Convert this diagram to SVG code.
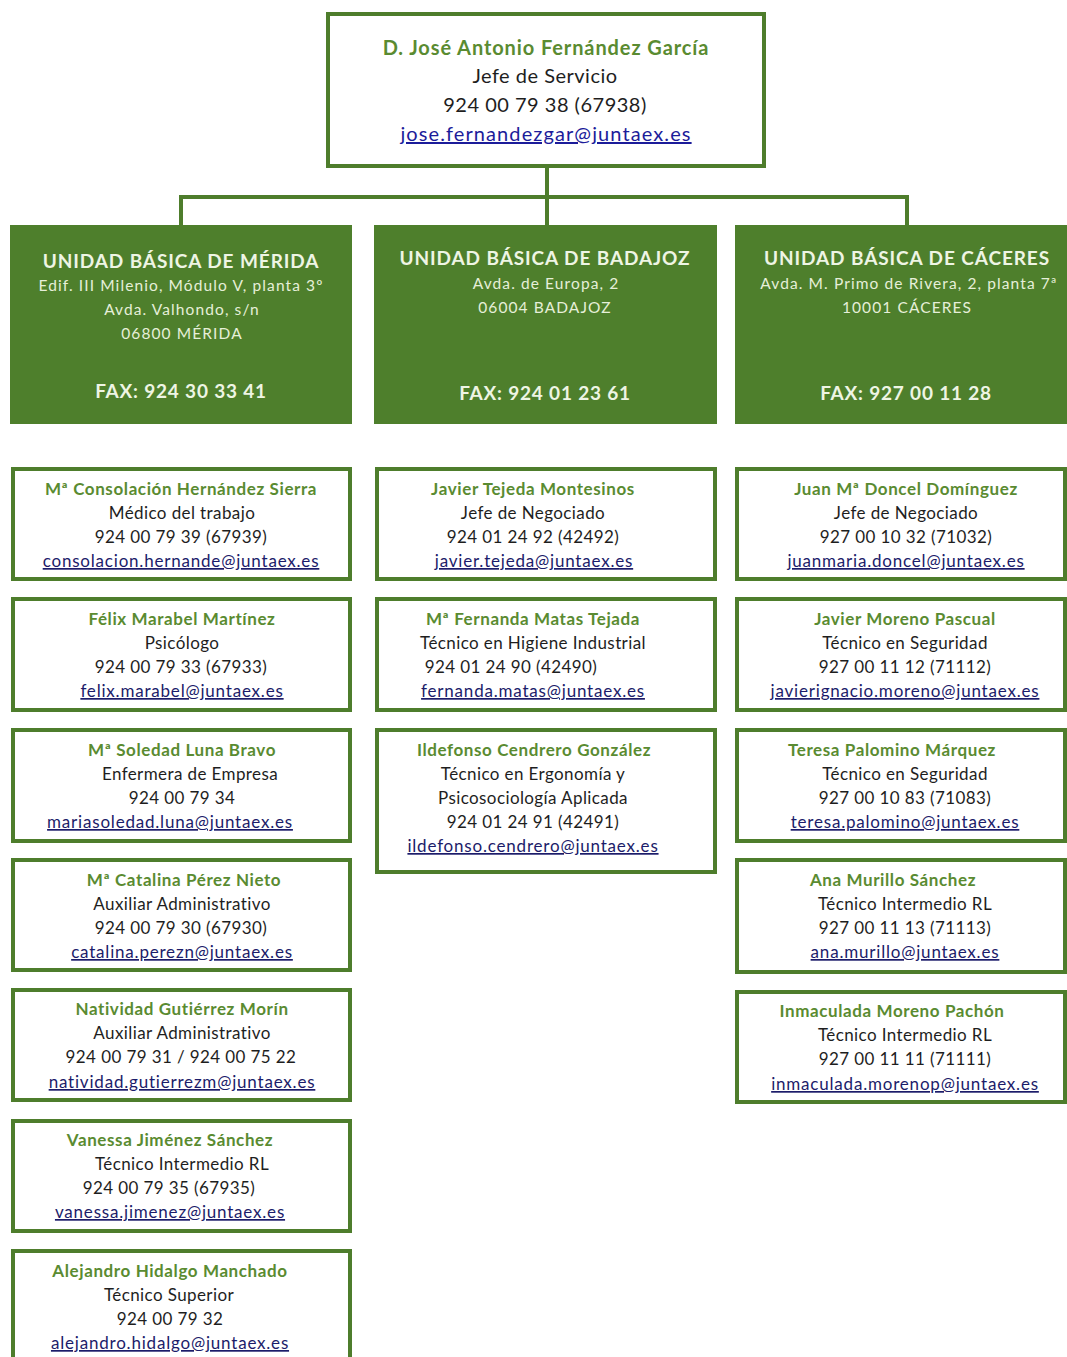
<svg xmlns="http://www.w3.org/2000/svg" width="1067" height="1357" viewBox="0 0 1067 1357">
<style>
.bx{fill:#ffffff;stroke:#4e7d2c;stroke-width:4}
.ub{fill:#4e7f2c}
.cn{fill:none;stroke:#4e7d2c;stroke-width:4}
text{font-family:Lato,"Liberation Sans",sans-serif;text-anchor:middle}
.nm{font-size:17px;font-weight:bold;fill:#5a8b31;letter-spacing:0.6px}
.tx{font-size:17px;fill:#1e1e1e;letter-spacing:0.4px}
.em{font-size:17px;fill:#1c1c6a;text-decoration:underline;letter-spacing:0.8px}
.tnm{font-size:20px;font-weight:bold;fill:#5a8b31;letter-spacing:0.9px}
.ttx{font-size:20px;fill:#1e1e1e;letter-spacing:0.5px}
.tem{font-size:20px;fill:#1c1c9a;text-decoration:underline;letter-spacing:1.1px}
.ut{font-size:19px;font-weight:bold;fill:#eef5e4;letter-spacing:0.9px}
.ua{font-size:15.5px;fill:#e6efd9;letter-spacing:1.1px}
.uf{font-size:19px;font-weight:bold;fill:#eef5e4;letter-spacing:0.8px}
</style>
<rect width="1067" height="1357" fill="#ffffff"/>
<g id="connectors">
<path class="cn" d="M547 168 V225"/>
<path class="cn" d="M181 225 V197 H907 V225"/>
</g>
<g id="jefe">
<rect class="bx" x="328" y="14" width="436" height="152"/>
<text class="tnm" x="546" y="55">D. José Antonio Fernández García</text>
<text class="ttx" x="545" y="83">Jefe de Servicio</text>
<text class="ttx" x="545" y="112">924 00 79 38 (67938)</text>
<text class="tem" x="546" y="141">jose.fernandezgar@juntaex.es</text>
</g>
<g id="unidad-merida">
<rect class="ub" x="10" y="225" width="342" height="199"/>
<text class="ut" x="181" y="268">UNIDAD BÁSICA DE MÉRIDA</text>
<text class="ua" x="181" y="291">Edif. III Milenio, Módulo V, planta 3º</text>
<text class="ua" x="182" y="315">Avda. Valhondo, s/n</text>
<text class="ua" x="182" y="339">06800 MÉRIDA</text>
<text class="uf" x="181" y="398">FAX: 924 30 33 41</text>
</g>
<g id="unidad-badajoz">
<rect class="ub" x="374" y="225" width="343" height="199"/>
<text class="ut" x="545" y="265">UNIDAD BÁSICA DE BADAJOZ</text>
<text class="ua" x="546" y="289">Avda. de Europa, 2</text>
<text class="ua" x="545" y="313">06004 BADAJOZ</text>
<text class="uf" x="545" y="400">FAX: 924 01 23 61</text>
</g>
<g id="unidad-caceres">
<rect class="ub" x="735" y="225" width="332" height="199"/>
<text class="ut" x="907" y="265">UNIDAD BÁSICA DE  CÁCERES</text>
<text class="ua" x="909" y="289">Avda. M. Primo de Rivera, 2, planta 7ª</text>
<text class="ua" x="907" y="313">10001 CÁCERES</text>
<text class="uf" x="906" y="400">FAX: 927 00 11 28</text>
</g>
<g id="m1">
<rect class="bx" x="13" y="469" width="337" height="110"/>
<text class="nm" x="181" y="495">Mª Consolación Hernández Sierra</text>
<text class="tx" x="182" y="519">Médico del trabajo</text>
<text class="tx" x="181" y="543">924 00 79 39 (67939)</text>
<text class="em" x="181" y="567">consolacion.hernande@juntaex.es</text>
</g>
<g id="m2">
<rect class="bx" x="13" y="599" width="337" height="111"/>
<text class="nm" x="182" y="625">Félix Marabel Martínez</text>
<text class="tx" x="182" y="649">Psicólogo</text>
<text class="tx" x="181" y="673">924 00 79 33 (67933)</text>
<text class="em" x="182" y="697">felix.marabel@juntaex.es</text>
</g>
<g id="m3">
<rect class="bx" x="13" y="730" width="337" height="111"/>
<text class="nm" x="182" y="756">Mª Soledad Luna Bravo</text>
<text class="tx" x="190" y="780">Enfermera de Empresa</text>
<text class="tx" x="182" y="804">924 00 79 34</text>
<text class="em" x="170" y="828">mariasoledad.luna@juntaex.es</text>
</g>
<g id="m4">
<rect class="bx" x="13" y="860" width="337" height="110"/>
<text class="nm" x="184" y="886">Mª Catalina Pérez Nieto</text>
<text class="tx" x="182" y="910">Auxiliar Administrativo</text>
<text class="tx" x="181" y="934">924 00 79 30 (67930)</text>
<text class="em" x="182" y="958">catalina.perezn@juntaex.es</text>
</g>
<g id="m5">
<rect class="bx" x="13" y="990" width="337" height="110"/>
<text class="nm" x="182" y="1015">Natividad Gutiérrez Morín</text>
<text class="tx" x="182" y="1039">Auxiliar Administrativo</text>
<text class="tx" x="181" y="1063">924 00 79 31 / 924 00 75 22</text>
<text class="em" x="182" y="1088">natividad.gutierrezm@juntaex.es</text>
</g>
<g id="m6">
<rect class="bx" x="13" y="1121" width="337" height="110"/>
<text class="nm" x="170" y="1146">Vanessa Jiménez Sánchez</text>
<text class="tx" x="182" y="1170">Técnico Intermedio RL</text>
<text class="tx" x="169" y="1194">924 00 79 35 (67935)</text>
<text class="em" x="170" y="1218">vanessa.jimenez@juntaex.es</text>
</g>
<g id="m7">
<rect class="bx" x="13" y="1251" width="337" height="120"/>
<text class="nm" x="170" y="1277">Alejandro Hidalgo Manchado</text>
<text class="tx" x="169" y="1301">Técnico Superior</text>
<text class="tx" x="170" y="1325">924 00 79 32</text>
<text class="em" x="170" y="1349">alejandro.hidalgo@juntaex.es</text>
</g>
<g id="b1">
<rect class="bx" x="377" y="469" width="338" height="110"/>
<text class="nm" x="533" y="495">Javier Tejeda Montesinos</text>
<text class="tx" x="533" y="519">Jefe de Negociado</text>
<text class="tx" x="533" y="543">924 01 24 92 (42492)</text>
<text class="em" x="534" y="567">javier.tejeda@juntaex.es</text>
</g>
<g id="b2">
<rect class="bx" x="377" y="599" width="338" height="111"/>
<text class="nm" x="533" y="625">Mª Fernanda Matas Tejada</text>
<text class="tx" x="533" y="649">Técnico en Higiene Industrial</text>
<text class="tx" x="511" y="673">924 01 24 90 (42490)</text>
<text class="em" x="533" y="697">fernanda.matas@juntaex.es</text>
</g>
<g id="b3">
<rect class="bx" x="377" y="730" width="338" height="142"/>
<text class="nm" x="534" y="756">Ildefonso Cendrero González</text>
<text class="tx" x="533" y="780">Técnico en Ergonomía y</text>
<text class="tx" x="533" y="804">Psicosociología Aplicada</text>
<text class="tx" x="533" y="828">924 01 24 91 (42491)</text>
<text class="em" x="533" y="852">ildefonso.cendrero@juntaex.es</text>
</g>
<g id="c1">
<rect class="bx" x="737" y="469" width="328" height="110"/>
<text class="nm" x="906" y="495">Juan Mª Doncel Domínguez</text>
<text class="tx" x="906" y="519">Jefe de Negociado</text>
<text class="tx" x="906" y="543">927 00 10 32 (71032)</text>
<text class="em" x="906" y="567">juanmaria.doncel@juntaex.es</text>
</g>
<g id="c2">
<rect class="bx" x="737" y="599" width="328" height="111"/>
<text class="nm" x="905" y="625">Javier Moreno Pascual</text>
<text class="tx" x="905" y="649">Técnico en Seguridad</text>
<text class="tx" x="905" y="673">927 00 11 12 (71112)</text>
<text class="em" x="905" y="697">javierignacio.moreno@juntaex.es</text>
</g>
<g id="c3">
<rect class="bx" x="737" y="730" width="328" height="111"/>
<text class="nm" x="892" y="756">Teresa Palomino Márquez</text>
<text class="tx" x="905" y="780">Técnico en Seguridad</text>
<text class="tx" x="905" y="804">927 00 10 83 (71083)</text>
<text class="em" x="905" y="828">teresa.palomino@juntaex.es</text>
</g>
<g id="c4">
<rect class="bx" x="737" y="860" width="328" height="112"/>
<text class="nm" x="893" y="886">Ana Murillo Sánchez</text>
<text class="tx" x="905" y="910">Técnico Intermedio RL</text>
<text class="tx" x="905" y="934">927 00 11 13 (71113)</text>
<text class="em" x="905" y="958">ana.murillo@juntaex.es</text>
</g>
<g id="c5">
<rect class="bx" x="737" y="992" width="328" height="110"/>
<text class="nm" x="892" y="1017">Inmaculada Moreno Pachón</text>
<text class="tx" x="905" y="1041">Técnico Intermedio RL</text>
<text class="tx" x="905" y="1065">927 00 11 11 (71111)</text>
<text class="em" x="905" y="1090">inmaculada.morenop@juntaex.es</text>
</g>
</svg>
